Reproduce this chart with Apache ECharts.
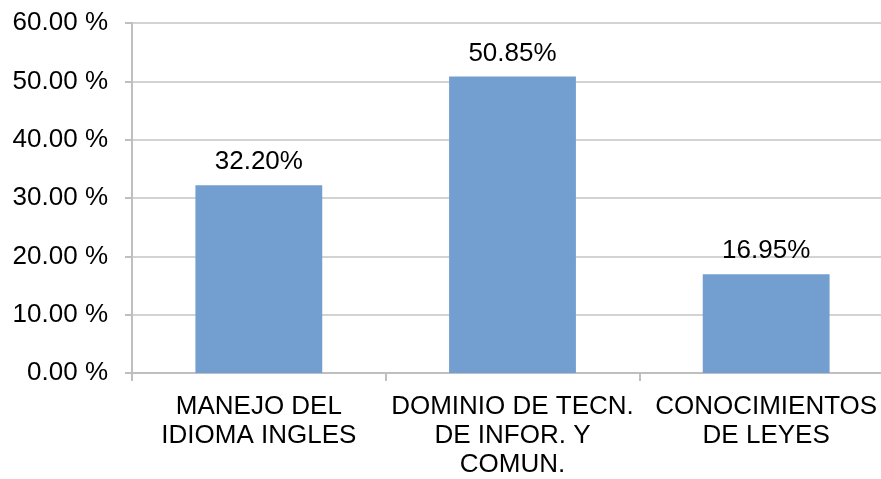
<!DOCTYPE html>
<html><head><meta charset="utf-8">
<script src="https://cdn.jsdelivr.net/npm/echarts@6/dist/echarts.min.js"></script>
<style>html,body{margin:0;padding:0;background:#fff;overflow:hidden;width:881px;height:479px}#c{width:893px;height:479px}</style>
</head><body><div id="c"></div>
<script>
const categories = ['MANEJO DEL\nIDIOMA INGLES', 'DOMINIO DE TECN.\nDE INFOR. Y\nCOMUN.', 'CONOCIMIENTOS\nDE LEYES'];
const values = [32.20, 50.85, 16.95];
const yMin = 0, yMax = 60, yStep = 10;

const chart = echarts.init(document.getElementById('c'));
const font = 'Liberation Sans, Arial, sans-serif';
chart.setOption({
  animation: false,
  grid: { left: 132, right: 0, top: 23, bottom: 104 },
  xAxis: {
    type: 'category', data: categories,
    axisLine: { lineStyle: { color: '#bfbfbf', width: 2 } },
    axisTick: { show: true, length: 8, alignWithLabel: false, lineStyle: { color: '#bfbfbf', width: 2 } },
    axisLabel: { color: '#000', fontFamily: font, fontSize: 26, lineHeight: 29, margin: 19, interval: 0 }
  },
  yAxis: {
    type: 'value', min: yMin, max: yMax, interval: yStep,
    axisLine: { show: true, lineStyle: { color: '#bfbfbf', width: 2 } },
    axisTick: { show: true, length: 7, lineStyle: { color: '#bfbfbf', width: 2 } },
    splitLine: { show: true, lineStyle: { color: '#c4c4c4', width: 1.5 } },
    axisLabel: { color: '#000', fontFamily: font, fontSize: 26, margin: 24,
      formatter: v => v.toFixed(2) + ' %' }
  },
  series: [{
    type: 'bar', data: values, barWidth: '50%',
    itemStyle: { color: '#729fcf' },
    label: { show: true, position: 'top', distance: 10, color: '#000', fontFamily: font, fontSize: 26,
      formatter: p => p.value.toFixed(2) + '%' }
  }]
});
</script></body></html>
